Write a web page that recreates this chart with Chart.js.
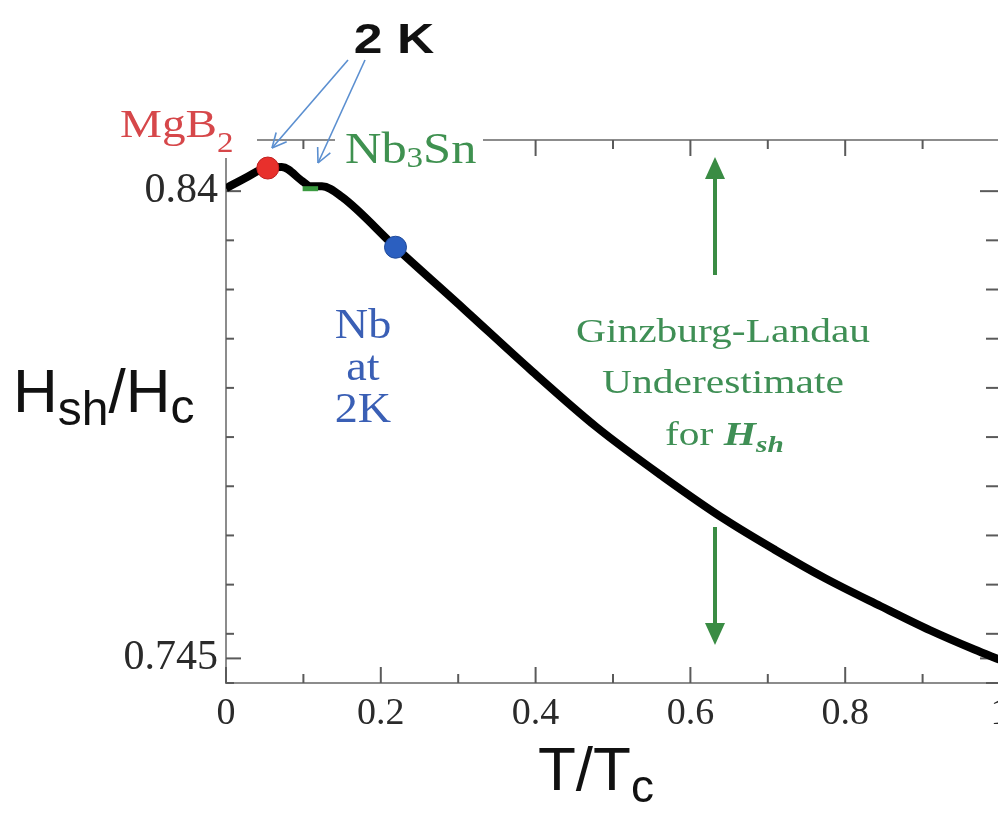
<!DOCTYPE html>
<html>
<head>
<meta charset="utf-8">
<script src="https://cdn.jsdelivr.net/npm/chart.js@4.4.0/dist/chart.umd.min.js"></script>
<style>
  html, body { margin: 0; padding: 0; background: #fff; overflow: hidden; }
  #Chart1 { display: block; }
</style>
</head>
<body>
<canvas id="Chart1" width="1012" height="815"></canvas>
<script>
// Hsh/Hc against T/Tc
const tRatio = [0, 0.024, 0.054, 0.072, 0.099, 0.109, 0.124, 0.150, 0.219, 0.309, 0.394, 0.479, 0.565, 0.646, 0.710, 0.774, 0.846, 0.910, 0.967, 1.0];
const hRatio = [0.8406, 0.8426, 0.8448, 0.8449, 0.8420, 0.8410, 0.8410, 0.8388, 0.8286, 0.8158, 0.8036, 0.7920, 0.7819, 0.7731, 0.7670, 0.7613, 0.7556, 0.7507, 0.7468, 0.7447];

// the three materials at 2 K
const mgb2T = [0.054], mgb2H = [0.8447];
const nb3snT = [0.099, 0.119], nb3snH = [0.8405, 0.8405];
const nbT = [0.219], nbH = [0.8286];

// axes
const xTickVals = [0, 0.1, 0.2, 0.3, 0.4, 0.5, 0.6, 0.7, 0.8, 0.9, 1.0];
const xTickLabels = ['0', '', '0.2', '', '0.4', '', '0.6', '', '0.8', '', '1'];
const yTickVals = [0.74, 0.745, 0.75, 0.76, 0.77, 0.78, 0.79, 0.80, 0.81, 0.82, 0.83, 0.84];
const yTickLabels = ['', '0.745', '', '', '', '', '', '', '', '', '', '0.84'];
const yMin = 0.74, yMax = 0.8504;

const pts = (xs, ys) => xs.map((x, i) => ({ x: x, y: ys[i] }));

// text with a horizontal stretch, the scan is a bit wide
function txt(ctx, s, x, y, font, color, align, sx) {
  ctx.save();
  ctx.font = font;
  ctx.fillStyle = color;
  ctx.textAlign = align || 'left';
  ctx.textBaseline = 'alphabetic';
  ctx.translate(x, y);
  ctx.scale(sx || 1, 1);
  ctx.fillText(s, 0, 0);
  const w = ctx.measureText(s).width * (sx || 1);
  ctx.restore();
  return w;
}

function line(ctx, x1, y1, x2, y2) {
  ctx.beginPath();
  ctx.moveTo(x1, y1);
  ctx.lineTo(x2, y2);
  ctx.stroke();
}

const frame = {
  id: 'frame',
  beforeDatasetsDraw(chart) {
    const ctx = chart.ctx, a = chart.chartArea;
    const xs = chart.scales.x, ys = chart.scales.y;
    ctx.save();
    ctx.strokeStyle = '#8c8c8c';
    ctx.lineWidth = 2;
    ctx.strokeRect(a.left, a.top, a.right - a.left, a.bottom - a.top);
    ctx.strokeStyle = '#5a5a5a';
    ctx.lineWidth = 2;
    xTickVals.forEach((v, i) => {
      const px = xs.getPixelForValue(v);
      const len = xTickLabels[i] !== '' ? 16 : 9;
      line(ctx, px, a.bottom, px, a.bottom - len);
      line(ctx, px, a.top, px, a.top + len);
    });
    yTickVals.forEach((v, i) => {
      const py = ys.getPixelForValue(v);
      const big = yTickLabels[i] !== '';
      line(ctx, a.left, py, a.left + (big ? 15 : 8), py);
      line(ctx, a.right, py, a.right - (big ? 20 : 14), py);
    });
    // white patches where the labels sit over the frame
    ctx.fillStyle = '#fff';
    ctx.fillRect(110, 90, 147, 68);
    ctx.fillRect(335, 112, 148, 50);
    ctx.restore();
  },
  afterDraw(chart) {
    const ctx = chart.ctx;
    ctx.save();

    // axis titles
    const sans = '"Liberation Sans", Arial, sans-serif';
    let x = 13;
    x += txt(ctx, 'H', x, 412, '62px ' + sans, '#111');
    x += txt(ctx, 'sh', x, 425, '48px ' + sans, '#111');
    x += txt(ctx, '/H', x, 412, '62px ' + sans, '#111');
    txt(ctx, 'c', x, 423, '48px ' + sans, '#111');

    x = 538;
    x += txt(ctx, 'T/T', x, 790, '62px ' + sans, '#111');
    txt(ctx, 'c', x, 802, '46px ' + sans, '#111');

    // 2 K and its arrows
    txt(ctx, '2 K', 394, 53, 'bold 43px ' + sans, '#111', 'center', 1.2);
    ctx.strokeStyle = '#5b8fd0';
    ctx.lineWidth = 1.6;
    const arrow = (x1, y1, x2, y2) => {
      line(ctx, x1, y1, x2, y2);
      const ang = Math.atan2(y2 - y1, x2 - x1);
      [0.45, -0.45].forEach(d => {
        line(ctx, x2, y2, x2 - 16 * Math.cos(ang + d), y2 - 16 * Math.sin(ang + d));
      });
    };
    arrow(348, 60, 272, 148);
    arrow(365, 60, 318, 163);

    // material labels
    const serif = '"Liberation Serif", "Times New Roman", serif';
    let w = txt(ctx, 'MgB', 120, 137, '41px ' + serif, '#d6474a', 'left', 1.15);
    txt(ctx, '2', 120 + w, 152, '30px ' + serif, '#d6474a', 'left', 1.1);
    x = 345;
    x += txt(ctx, 'Nb', x, 163, '45px ' + serif, '#3f9150', 'left', 1.12);
    x += txt(ctx, '3', x, 167, '30px ' + serif, '#3f9150', 'left', 1.1);
    txt(ctx, 'Sn', x, 163, '45px ' + serif, '#3f9150', 'left', 1.12);

    txt(ctx, 'Nb', 363, 338, '42px ' + serif, '#3a5fb5', 'center', 1.1);
    txt(ctx, 'at', 363, 380, '42px ' + serif, '#3a5fb5', 'center', 1.1);
    txt(ctx, '2K', 363, 422, '42px ' + serif, '#3a5fb5', 'center', 1.1);

    // Ginzburg-Landau note
    const gl = '#3f8f55';
    txt(ctx, 'Ginzburg-Landau', 723, 342, '34px ' + serif, gl, 'center', 1.22);
    txt(ctx, 'Underestimate', 723, 393, '34px ' + serif, gl, 'center', 1.22);
    x = 665;
    x += txt(ctx, 'for ', x, 445, '34px ' + serif, gl, 'left', 1.22);
    x += txt(ctx, 'H', x, 445, 'italic bold 34px ' + serif, gl, 'left', 1.22);
    txt(ctx, 'sh', x, 452, 'italic bold 24px ' + serif, gl, 'left', 1.22);

    // green arrows
    ctx.strokeStyle = '#3a8c44';
    ctx.fillStyle = '#3a8c44';
    ctx.lineWidth = 4;
    const fat = (x0, y1, y2) => {
      const dir = Math.sign(y2 - y1);
      line(ctx, x0, y1, x0, y2 - dir * 18);
      ctx.beginPath();
      ctx.moveTo(x0, y2);
      ctx.lineTo(x0 - 10, y2 - dir * 22);
      ctx.lineTo(x0 + 10, y2 - dir * 22);
      ctx.closePath();
      ctx.fill();
    };
    fat(715, 275, 157);
    fat(715, 527, 645);

    ctx.restore();
  }
};

const tickFont = { family: '"Liberation Serif", "Times New Roman", serif' };

new Chart(document.getElementById('Chart1').getContext('2d'), {
  type: 'line',
  data: {
    datasets: [
      {
        label: 'MgB2',
        data: pts(mgb2T, mgb2H),
        showLine: false,
        pointRadius: 11,
        pointBackgroundColor: '#e8302c',
        pointBorderColor: '#c02020',
        pointBorderWidth: 1,
        order: 1
      },
      {
        label: 'Nb',
        data: pts(nbT, nbH),
        showLine: false,
        pointRadius: 11,
        pointBackgroundColor: '#2b5fc0',
        pointBorderColor: '#1f4a9a',
        pointBorderWidth: 1,
        order: 1
      },
      {
        label: 'Nb3Sn',
        data: pts(nb3snT, nb3snH),
        borderColor: '#3a9a40',
        borderWidth: 5,
        pointRadius: 0,
        order: 2
      },
      {
        label: 'Hsh/Hc',
        data: pts(tRatio, hRatio),
        borderColor: '#000',
        borderWidth: 8,
        pointRadius: 0,
        cubicInterpolationMode: 'monotone',
        order: 3
      }
    ]
  },
  options: {
    responsive: false,
    animation: false,
    layout: { padding: { top: 140, right: 6, left: 0, bottom: 0 } },
    plugins: { legend: { display: false }, tooltip: { enabled: false } },
    scales: {
      x: {
        type: 'linear',
        min: 0,
        max: 1,
        grid: { display: false },
        border: { display: false },
        afterBuildTicks: s => { s.ticks = xTickVals.map(v => ({ value: v })); },
        afterFit: s => { s.height = 132; },
        ticks: {
          autoSkip: false,
          maxRotation: 0,
          padding: 0,
          color: '#2a2a2a',
          font: Object.assign({ size: 38 }, tickFont),
          callback: (v, i) => xTickLabels[i]
        }
      },
      y: {
        type: 'linear',
        min: yMin,
        max: yMax,
        grid: { display: false },
        border: { display: false },
        afterBuildTicks: s => { s.ticks = yTickVals.map(v => ({ value: v })); },
        afterFit: s => { s.width = 226; },
        ticks: {
          autoSkip: false,
          padding: 0,
          color: '#2a2a2a',
          font: Object.assign({ size: 42 }, tickFont),
          callback: (v, i) => yTickLabels[i]
        }
      }
    }
  },
  plugins: [frame]
});
</script>
</body>
</html>
